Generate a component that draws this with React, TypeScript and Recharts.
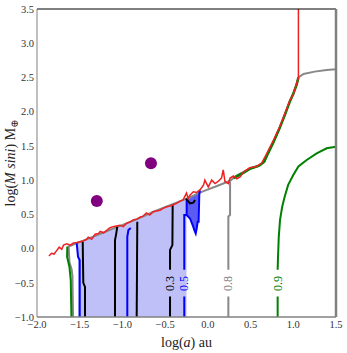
import { Area, ComposedChart, Label, Line, Scatter, XAxis, YAxis } from "recharts";

const SERIF = "'Liberation Serif', 'DejaVu Serif', serif";

const X_TICKS = [-2, -1.5, -1, -0.5, 0, 0.5, 1, 1.5];
const Y_TICKS = [-1, -0.5, 0, 0.5, 1, 1.5, 2, 2.5, 3, 3.5];

type Pair = [number, number | null];

// noisy red detection limit
const redLimit: Pair[] = [
  [-1.86, -0.11], [-1.83, -0.07], [-1.8, -0.08], [-1.77, -0.03], [-1.74, 0.02], [-1.71, -0.01],
  [-1.69, 0.05], [-1.65, 0.07], [-1.61, 0.05], [-1.575, 0.08], [-1.535, 0.09], [-1.5, 0.1],
  [-1.46, 0.11], [-1.42, 0.135], [-1.4, 0.165], [-1.36, 0.135], [-1.32, 0.21], [-1.28, 0.22],
  [-1.26, 0.25], [-1.22, 0.23], [-1.18, 0.27], [-1.15, 0.3], [-1.11, 0.32], [-1.07, 0.33],
  [-1.03, 0.34], [-0.99, 0.32], [-0.95, 0.37], [-0.91, 0.39], [-0.87, 0.42], [-0.83, 0.43],
  [-0.79, 0.46], [-0.76, 0.47], [-0.72, 0.52], [-0.68, 0.49], [-0.64, 0.54], [-0.6, 0.55],
  [-0.56, 0.56], [-0.52, 0.59], [-0.48, 0.61], [-0.44, 0.62], [-0.405, 0.64], [-0.365, 0.66],
  [-0.33, 0.69], [-0.29, 0.71], [-0.25, 0.81], [-0.23, 0.73], [-0.21, 0.78], [-0.17, 0.83],
  [-0.13, 0.82], [-0.09, 0.86], [-0.05, 0.93], [-0.035, 1.0], [0.005, 0.9], [0.045, 1.0],
  [0.085, 0.95], [0.12, 0.98], [0.16, 1.03], [0.18, 1.15], [0.2, 0.98], [0.24, 0.95],
  [0.26, 1.03], [0.3, 1.06], [0.34, 1.02], [0.38, 1.05], [0.42, 1.12], [0.49, 1.18],
  [0.57, 1.2], [0.63, 1.25], [0.69, 1.39], [0.77, 1.59], [0.84, 1.78], [0.9, 1.97],
  [0.96, 2.17], [1.0, 2.25], [1.04, 2.42], [1.06, 2.49], [1.06, 3.6],
];

// contour 0.8 (grey)
const grey08Main: Pair[] = [
  [-1.578, -1.0], [-1.585, -0.4], [-1.595, -0.3], [-1.62, -0.2], [-1.63, 0.03],
  [-1.45, 0.12], [-1.25, 0.22], [-1.05, 0.32], [-0.85, 0.42], [-0.65, 0.53], [-0.45, 0.63],
  [-0.25, 0.73], [-0.05, 0.84], [0.1, 0.91], [0.26, 0.99], [0.34, 1.07],
  [0.5, 1.17], [0.6, 1.21], [0.66, 1.27], [0.7, 1.38], [0.77, 1.56], [0.84, 1.76],
  [0.9, 1.95], [0.96, 2.15], [1.0, 2.26], [1.04, 2.4], [1.06, 2.5],
  [1.12, 2.55], [1.25, 2.585], [1.39, 2.61], [1.5, 2.62],
];
const grey08Right: Pair[] = [
  [0.24, -1.0], [0.24, -0.7], [0.24, null], [0.24, -0.31], [0.24, 0.47], [0.26, 0.49], [0.26, 0.98],
];

// contour 0.9 (green)
const green09Left: Pair[] = [
  [-1.645, 0.03], [-1.648, -0.12], [-1.62, -0.27], [-1.605, -0.46], [-1.597, -1.0],
];
const green09Steep: Pair[] = [
  [0.3, 1.03], [0.42, 1.11], [0.5, 1.17], [0.6, 1.21], [0.66, 1.27], [0.7, 1.38],
  [0.77, 1.56], [0.84, 1.76], [0.9, 1.95], [0.96, 2.15], [1.0, 2.26], [1.04, 2.4], [1.06, 2.5],
];
const green09Right: Pair[] = [
  [0.817, -1.0], [0.817, -0.7], [0.817, null], [0.817, -0.31], [0.82, -0.17], [0.83, 0.17],
  [0.845, 0.42], [0.87, 0.61], [0.9, 0.76], [0.94, 0.93], [1.0, 1.075], [1.06, 1.2],
  [1.157, 1.294], [1.274, 1.39], [1.391, 1.465], [1.5, 1.488],
];

// contour 0.5 (blue)
const blue05A: Pair[] = [[-1.535, 0.08], [-1.52, -0.12], [-1.5, -0.17], [-1.5, -1.0]];
const blue05B: Pair[] = [[-0.903, 0.3], [-0.93, 0.27], [-0.943, 0.17], [-0.943, -1.0]];
const blue05C: Pair[] = [
  [-0.276, -1.0], [-0.276, -0.7], [-0.276, null], [-0.276, -0.31], [-0.276, 0.49], [-0.248, 0.49],
];
const blue05Island: Pair[] = [
  [-0.248, 0.71], [-0.248, 0.49], [-0.209, 0.44], [-0.177, 0.34], [-0.158, 0.27], [-0.142, 0.22],
  [-0.13, 0.3], [-0.119, 0.39], [-0.108, 0.39], [-0.1, 0.8], [-0.092, 0.85],
];

// contour 0.3 (black)
const black03A: Pair[] = [[-1.465, 0.1], [-1.458, -0.5], [-1.438, -0.56], [-1.438, -1.0]];
const black03B: Pair[] = [[-1.06, 0.32], [-1.075, 0.2], [-1.087, 0.125], [-1.087, -1.0]];
const black03C: Pair[] = [[-0.826, 0.39], [-0.833, -1.0]];
const black03D: Pair[] = [
  [-0.412, 0.64], [-0.415, 0.05], [-0.443, -0.02], [-0.443, -0.31], [-0.443, null], [-0.443, -0.7], [-0.443, -1.0],
];
const black03Hook: Pair[] = [[-0.256, 0.73], [-0.209, 0.66], [-0.17, 0.67], [-0.15, 0.71]];

// filled region (>= 0.5)
const fillTop: Pair[] = [
  [-1.52, 0.085], [-1.45, 0.12], [-1.25, 0.22], [-1.05, 0.32], [-0.85, 0.42],
  [-0.65, 0.53], [-0.45, 0.63], [-0.25, 0.73],
];
const islandX = [-0.248, -0.209, -0.177, -0.158, -0.142, -0.13, -0.119, -0.108, -0.1];
const islandLow = [0.49, 0.44, 0.34, 0.27, 0.22, 0.3, 0.39, 0.39, 0.8];
const islandHigh = [0.71, 0.74, 0.77, 0.79, 0.8, 0.81, 0.82, 0.83, 0.84];

const planets: Pair[] = [[-1.3, 0.695], [-0.666, 1.246]];

const levelNames = ["0.3", "0.5", "0.8", "0.9"];
const levelX = [-0.443, -0.276, 0.24, 0.817];
const levelY = -0.51;

const pts = (a: Pair[]) => a.map(([x, y]) => ({ x, y }));
const islandData = islandX.map((x, i) => ({ x, r: [islandLow[i], islandHigh[i]] }));
const levelData = levelNames.map((level, i) => ({ x: levelX[i], y: levelY, level }));

const LEVEL_COLORS: Record<string, string> = {
  "0.3": "#000000",
  "0.5": "#0000ff",
  "0.8": "#808080",
  "0.9": "#008000",
};

const fmt = (v: number) => v.toFixed(1).replace("-", "\u2212");
const noTick = () => <g />;

function XTitle(props: any) {
  const vb = props.viewBox;
  return (
    <text x={vb.x + vb.width / 2} y={347} textAnchor="middle" fontFamily={SERIF} fontSize={14} fill="#222">
      log(<tspan fontStyle="italic">a</tspan>) au
    </text>
  );
}

function YTitle(props: any) {
  const vb = props.viewBox;
  const cy = vb.y + vb.height / 2;
  return (
    <text transform={`translate(15, ${cy}) rotate(-90)`} textAnchor="middle" fontFamily={SERIF} fontSize={14} fill="#222">
      log(<tspan fontStyle="italic">M sini</tspan>) M<tspan fontSize={10} dy={3}>⊕</tspan>
    </text>
  );
}

function LevelLabel(p: any) {
  return (
    <text
      transform={`translate(${p.cx + 4}, ${p.cy}) rotate(-90)`}
      textAnchor="middle"
      fontFamily={SERIF}
      fontSize={12}
      fill={LEVEL_COLORS[p.payload.level]}
    >
      {p.payload.level}
    </text>
  );
}

function Planet(p: any) {
  return <circle cx={p.cx} cy={p.cy} r={6} fill="#800080" />;
}

const lineProps = {
  type: "linear" as const,
  dataKey: "y",
  dot: false,
  activeDot: false,
  isAnimationActive: false,
  connectNulls: false,
};

export default function App() {
  const tickStyle = { fontFamily: SERIF, fontSize: 10.5, fill: "#333" };
  return (
    <div style={{ position: "absolute", left: 0, top: 0, background: "#fff" }}>
      <ComposedChart width={347} height={353} margin={{ top: 9, right: 11, bottom: 16, left: 7 }}>
        <XAxis
          xAxisId={0}
          dataKey="x"
          type="number"
          domain={[-2, 1.5]}
          ticks={X_TICKS}
          allowDataOverflow
          height={20}
          tickFormatter={fmt}
          tick={tickStyle}
          tickLine={false}
          tickSize={0}
          tickMargin={4}
          axisLine={{ stroke: "#808080", strokeWidth: 1.5 }}
        >
          <Label content={XTitle} />
        </XAxis>
        <XAxis
          xAxisId="bin"
          dataKey="x"
          type="number"
          domain={[-2, 1.5]}
          ticks={X_TICKS}
          mirror
          tick={noTick}
          tickSize={3}
          tickLine={{ stroke: "#999" }}
          axisLine={false}
        />
        <XAxis
          xAxisId="top"
          orientation="top"
          dataKey="x"
          type="number"
          domain={[-2, 1.5]}
          ticks={X_TICKS}
          mirror
          tick={noTick}
          tickSize={3}
          tickLine={{ stroke: "#999" }}
          axisLine={{ stroke: "#000" }}
        />
        <YAxis
          yAxisId={0}
          type="number"
          domain={[-1, 3.5]}
          ticks={Y_TICKS}
          allowDataOverflow
          width={30}
          tickFormatter={fmt}
          tick={tickStyle}
          tickLine={false}
          tickSize={0}
          tickMargin={3}
          axisLine={{ stroke: "#808080" }}
        >
          <Label content={YTitle} />
        </YAxis>
        <YAxis
          yAxisId="lin"
          type="number"
          domain={[-1, 3.5]}
          ticks={Y_TICKS}
          mirror
          tick={noTick}
          tickSize={3}
          tickLine={{ stroke: "#999" }}
          axisLine={false}
        />
        <YAxis
          yAxisId="right"
          orientation="right"
          type="number"
          domain={[-1, 3.5]}
          ticks={Y_TICKS}
          mirror
          tick={noTick}
          tickSize={3}
          tickLine={{ stroke: "#999" }}
          axisLine={{ stroke: "#808080", strokeWidth: 2.5 }}
        />

        <Area
          data={pts(fillTop)}
          type="linear"
          dataKey="y"
          baseValue={-1}
          stroke="none"
          fill="#c0c0f8"
          fillOpacity={1}
          isAnimationActive={false}
        />
        <Area
          data={islandData}
          type="linear"
          dataKey="r"
          stroke="none"
          fill="#5c5cf2"
          fillOpacity={1}
          isAnimationActive={false}
        />

        <Line {...lineProps} data={pts(grey08Main)} stroke="#888888" strokeWidth={2} />
        <Line {...lineProps} data={pts(grey08Right)} stroke="#888888" strokeWidth={2} />
        <Line {...lineProps} data={pts(green09Left)} stroke="#008000" strokeWidth={2} />
        <Line {...lineProps} data={pts(green09Steep)} stroke="#008000" strokeWidth={2.5} />
        <Line {...lineProps} data={pts(green09Right)} stroke="#008000" strokeWidth={2} />
        <Line {...lineProps} data={pts(blue05A)} stroke="#0000ff" strokeWidth={2} />
        <Line {...lineProps} data={pts(blue05B)} stroke="#0000ff" strokeWidth={2} />
        <Line {...lineProps} data={pts(blue05C)} stroke="#0000ff" strokeWidth={2} />
        <Line {...lineProps} data={pts(blue05Island)} stroke="#0000ff" strokeWidth={2} />
        <Line {...lineProps} data={pts(black03A)} stroke="#000000" strokeWidth={2} />
        <Line {...lineProps} data={pts(black03B)} stroke="#000000" strokeWidth={2} />
        <Line {...lineProps} data={pts(black03C)} stroke="#000000" strokeWidth={2} />
        <Line {...lineProps} data={pts(black03D)} stroke="#000000" strokeWidth={2} />
        <Line {...lineProps} data={pts(black03Hook)} stroke="#000000" strokeWidth={2} />
        <Line {...lineProps} data={pts(redLimit)} stroke="#ee2222" strokeWidth={1.5} />

        <Scatter data={pts(planets)} dataKey="y" shape={Planet} isAnimationActive={false} />
        <Scatter data={levelData} dataKey="y" shape={LevelLabel} isAnimationActive={false} />
      </ComposedChart>
    </div>
  );
}
